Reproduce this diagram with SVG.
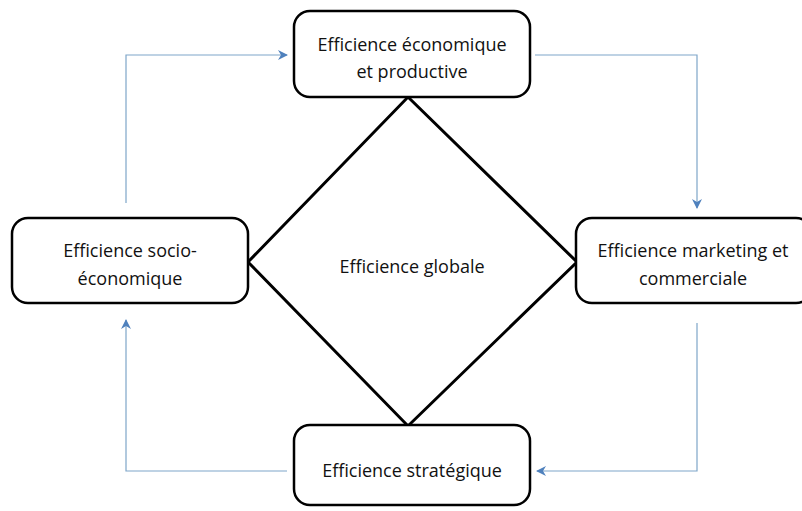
<svg xmlns="http://www.w3.org/2000/svg" width="802" height="511" viewBox="0 0 802 511">
<defs>
<style>
.box{fill:#fff;stroke:#000;stroke-width:2.5}
.dia{fill:#fff;stroke:#000;stroke-width:3;stroke-linejoin:miter}
.t{font-family:"Open Sans","Liberation Sans",sans-serif;font-size:18px;fill:#111;text-anchor:middle}
.c{fill:none;stroke:#7ea6c9;stroke-width:1.2}
</style>
<marker id="ah" viewBox="0 0 10 10" refX="9" refY="5" markerWidth="10" markerHeight="10" markerUnits="userSpaceOnUse" orient="auto">
<path d="M0,0 L10,5 L0,10 L3,5 Z" fill="#4f81bd"/>
</marker>
</defs>
<rect width="802" height="511" fill="#fff"/>
<g id="connectors">
<path class="c" d="M126,203 V55 H287" marker-end="url(#ah)"/>
<path class="c" d="M535,55 H697 V208" marker-end="url(#ah)"/>
<path class="c" d="M697,323 V471 H537" marker-end="url(#ah)"/>
<path class="c" d="M287,471 H126 V320" marker-end="url(#ah)"/>
</g>
<g id="globale">
<polygon class="dia" points="408,97 577,262 408,426 248,262"/>
<text class="t" x="412" y="273">Efficience globale</text>
</g>
<g id="economique">
<rect class="box" x="294" y="11" width="236" height="86" rx="16"/>
<text class="t" x="412" y="51">Efficience économique</text>
<text class="t" x="412" y="78">et productive</text>
</g>
<g id="socio">
<rect class="box" x="12" y="218" width="236" height="85" rx="16"/>
<text class="t" x="130" y="257">Efficience socio-</text>
<text class="t" x="130" y="285">économique</text>
</g>
<g id="marketing">
<rect class="box" x="576" y="218" width="236" height="85" rx="16"/>
<text class="t" x="693" y="257">Efficience marketing et</text>
<text class="t" x="693" y="285">commerciale</text>
</g>
<g id="strategique">
<rect class="box" x="294" y="425" width="236" height="80" rx="16"/>
<text class="t" x="412" y="477">Efficience stratégique</text>
</g>
</svg>
